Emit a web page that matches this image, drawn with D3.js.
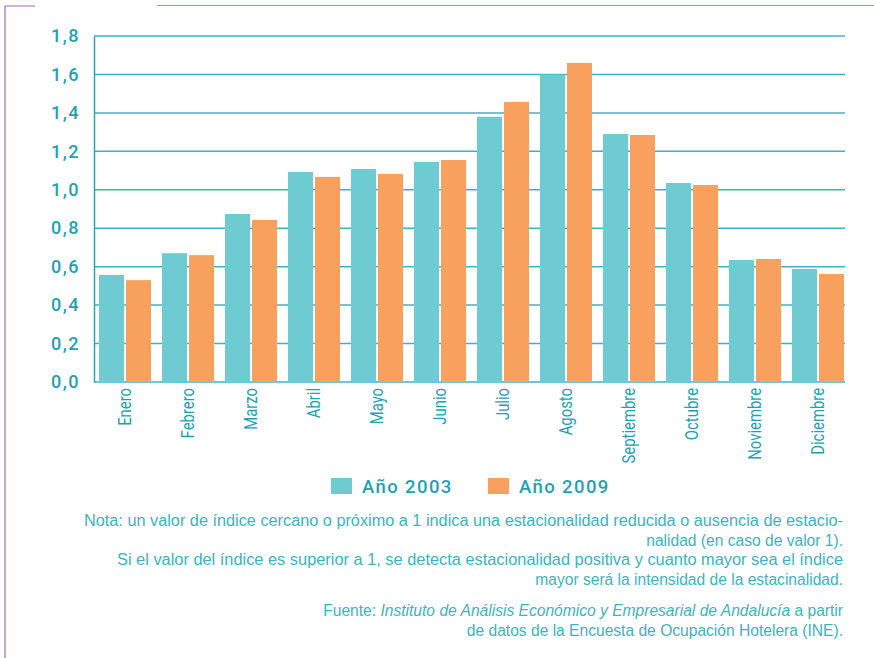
<!DOCTYPE html>
<html>
<head>
<meta charset="utf-8">
<script src="https://cdn.jsdelivr.net/npm/d3@7"></script>
<style>
  body { margin: 0; background: #fff; }
  svg { display: block; }
</style>
</head>
<body>
<div id="chart"></div>
<script>
const months = ["Enero", "Febrero", "Marzo", "Abril", "Mayo", "Junio", "Julio",
    "Agosto", "Septiembre", "Octubre", "Noviembre", "Diciembre"];
const years = ["Año 2003", "Año 2009"];
const values2003 = [0.557, 0.67, 0.874, 1.093, 1.108, 1.145, 1.38, 1.60, 1.29, 1.035, 0.635, 0.588];
const values2009 = [0.53, 0.66, 0.843, 1.067, 1.082, 1.155, 1.457, 1.66, 1.285, 1.025, 0.64, 0.562];
const yTicks = [0, 0.2, 0.4, 0.6, 0.8, 1.0, 1.2, 1.4, 1.6, 1.8];
const noteLines = [
    "Nota: un valor de índice cercano o próximo a 1 indica una estacionalidad reducida o ausencia de estacio-",
    "nalidad (en caso de valor 1).",
    "Si el valor del índice es superior a 1, se detecta estacionalidad positiva y cuanto mayor sea el índice",
    "mayor será la intensidad de la estacinalidad."
];
// justified lines get a fixed width, the others keep their natural width
const noteWidths = [759, null, 726, null];

const svgWidth = 874, svgHeight = 658;
const colors = ["#6fcbd2", "#f8a15e"];
const teal = "#22a8b8";

const svg = d3.select("#chart").append("svg")
    .attr("width", svgWidth)
    .attr("height", svgHeight);

// decorative frame
svg.append("path")
    .attr("d", "M5,658 V6 H35")
    .attr("fill", "none").attr("stroke", "#a46bb6").attr("stroke-width", 1.2);
svg.append("line")
    .attr("x1", 157).attr("x2", 874).attr("y1", 5.5).attr("y2", 5.5)
    .attr("stroke", "#b88cc6").attr("stroke-width", 1.2);

const plot = { left: 94, right: 845, top: 36, bottom: 382 };

const yScale = d3.scaleLinear().domain([0, 1.8]).range([plot.bottom, plot.top]);
const xScale = d3.scaleBand()
    .domain(months)
    .range([93.5, 849.5])
    .paddingInner(0.175)
    .paddingOuter(0.0875);
const xInner = d3.scaleBand()
    .domain(years)
    .range([0, xScale.bandwidth()])
    .paddingInner(0.074);

const fmt = d => d3.format(".1f")(d).replace(".", ",");

// grid lines
svg.append("g")
    .selectAll("line")
    .data(yTicks)
    .join("line")
    .attr("x1", plot.left).attr("x2", plot.right)
    .attr("y1", d => yScale(d)).attr("y2", d => yScale(d))
    .attr("stroke", "#3cb3c0")
    .attr("stroke-width", 1.5);

// y axis
const yAxis = svg.append("g")
    .attr("transform", "translate(" + plot.left + ",0)")
    .call(d3.axisLeft(yScale).tickValues(yTicks).tickFormat(fmt).tickSize(0).tickPadding(14));
yAxis.select(".domain").attr("stroke", teal).attr("stroke-width", 1.5);
yAxis.selectAll("text")
    .attr("fill", "#1ea2b3")
    .style("font-family", "Roboto, sans-serif")
    .style("font-size", "18px")
    .style("font-weight", "500")
    .style("letter-spacing", "1.5px");

// bars
const series = [values2003, values2009];
const groups = svg.append("g")
    .selectAll("g")
    .data(months)
    .join("g")
    .attr("transform", d => "translate(" + xScale(d) + ",0)");
groups.selectAll("rect")
    .data((m, i) => years.map((y, k) => ({ year: y, value: series[k][i], k: k })))
    .join("rect")
    .attr("x", d => xInner(d.year))
    .attr("y", d => yScale(d.value))
    .attr("width", xInner.bandwidth())
    .attr("height", d => yScale(0) - yScale(d.value))
    .attr("fill", d => colors[d.k]);

// x axis
const xAxis = svg.append("g")
    .attr("transform", "translate(0," + plot.bottom + ")")
    .call(d3.axisBottom(xScale).tickSize(0).tickPadding(0));
xAxis.select(".domain").remove();
xAxis.selectAll("text")
    .attr("transform", "rotate(-90) scale(0.85,1)")
    .attr("x", -7)
    .attr("y", 0)
    .attr("dy", "0.36em")
    .attr("text-anchor", "end")
    .attr("fill", "#1ea2b3")
    .style("font-family", "Roboto, sans-serif")
    .style("font-size", "17.5px");

// legend
const legend = svg.append("g")
    .selectAll("g")
    .data(years)
    .join("g")
    .attr("transform", (d, i) => "translate(" + [331, 488][i] + ",478)");
legend.append("rect")
    .attr("width", 21).attr("height", 16)
    .attr("fill", (d, i) => colors[i]);
legend.append("text")
    .attr("x", 31).attr("y", 15)
    .attr("fill", "#1ea2b3")
    .style("font-family", "Roboto, sans-serif")
    .style("font-size", "18.5px")
    .style("font-weight", "500")
    .style("letter-spacing", "1.4px")
    .text(d => d);

// notes
const noteStyle = sel => sel
    .attr("text-anchor", "end")
    .attr("fill", "#3bb4c1")
    .style("font-family", "'Liberation Sans', Arial, sans-serif")
    .style("font-size", "15.6px");

const notes = svg.append("g")
    .selectAll("text")
    .data(noteLines)
    .join("text")
    .attr("x", 843)
    .attr("y", (d, i) => 526 + i * 19.6)
    .call(noteStyle)
    .text(d => d);
notes.filter((d, i) => noteWidths[i])
    .attr("textLength", d => noteWidths[noteLines.indexOf(d)])
    .attr("lengthAdjust", "spacingAndGlyphs");

const src = svg.append("text")
    .attr("x", 843).attr("y", 616)
    .call(noteStyle);
src.append("tspan").text("Fuente: ");
src.append("tspan").style("font-style", "italic").text("Instituto de Análisis Económico y Empresarial de Andalucía");
src.append("tspan").text(" a partir");

svg.append("text")
    .attr("x", 843).attr("y", 636)
    .call(noteStyle)
    .text("de datos de la Encuesta de Ocupación Hotelera (INE).");
</script>
</body>
</html>
